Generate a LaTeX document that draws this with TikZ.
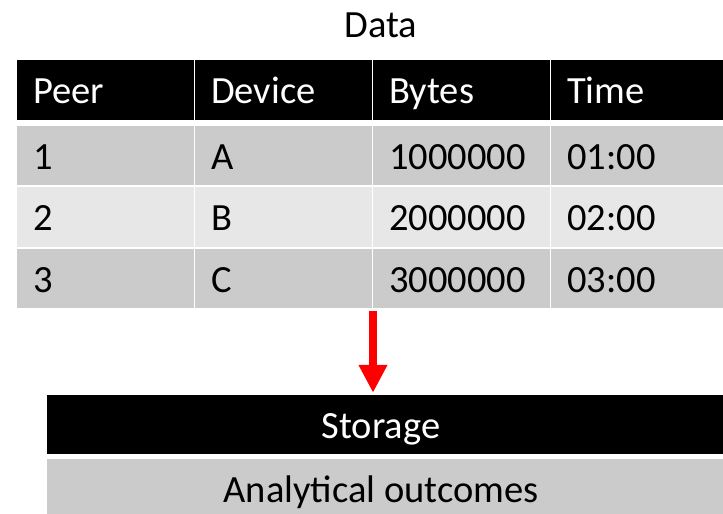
\documentclass[tikz,border=0pt]{standalone}
\usepackage{fontspec}
\setmainfont{Carlito}
\usetikzlibrary{arrows.meta}
\definecolor{rowdark}{HTML}{CBCBCB}
\definecolor{rowlight}{HTML}{E7E7E7}

\begin{document}
\begin{tikzpicture}[x=1pt, y=-1pt,
  bigfont/.style={font=\fontsize{38.5}{42}\selectfont},
  cell/.style={rectangle, bigfont, anchor=north west, minimum width=177pt,
               minimum height=59.5pt, text width=145pt, inner xsep=16pt,
               inner ysep=0pt, text height=28pt, text depth=0pt, align=left},
  headcell/.style={cell, fill=black, text=white},
  bar/.style={rectangle, bigfont, minimum width=668pt, minimum height=59pt,
              inner sep=0pt, text height=27pt, text depth=0pt},
  flow/.style={-{Triangle[width=27pt,length=28pt]}, line width=8pt, red,
               shorten >=2pt}
]
  \useasboundingbox (0,0) rectangle (723,514);
  \clip (0,0) rectangle (723,514);

  \node[bigfont, anchor=base] (title) at (381, 37) {Data};

  \foreach \name/\col in {Peer/1, Device/2, Bytes/3, Time/4}
    \node[headcell] (h\col) at ({17+178*(\col-1)}, 60) {\name};

  \foreach \peer/\dev/\bytes/\time/\row/\shade in
      {1/A/1000000/01:00/1/rowdark, 2/B/2000000/02:00/2/rowlight,
       3/C/3000000/03:00/3/rowdark} {
    \node[cell, fill=\shade] (c\row1) at (17, {125.5+61.5*(\row-1)}) {\peer};
    \node[cell, fill=\shade] (c\row2) at (195, {125.5+61.5*(\row-1)}) {\dev};
    \node[cell, fill=\shade] (c\row3) at (373, {125.5+61.5*(\row-1)}) {\bytes};
    \node[cell, fill=\shade] (c\row4) at (551, {125.5+61.5*(\row-1)}) {\time};
  }

  \node[bar, fill=black, text=white] (storage) at (381, 424.5) {Storage};
  \fill[black] (storage.north east) rectangle ([xshift=20pt]storage.south east);
  \node[bar, fill=rowdark] (outcomes) at (381, 488.5) {Analytical outcomes};
  \fill[rowdark] (outcomes.north east) rectangle ([xshift=20pt]outcomes.south east);

  \draw[flow] ([yshift=-3pt]c33.south west) -- (c33.south west |- storage.north);
\end{tikzpicture}
\end{document}
